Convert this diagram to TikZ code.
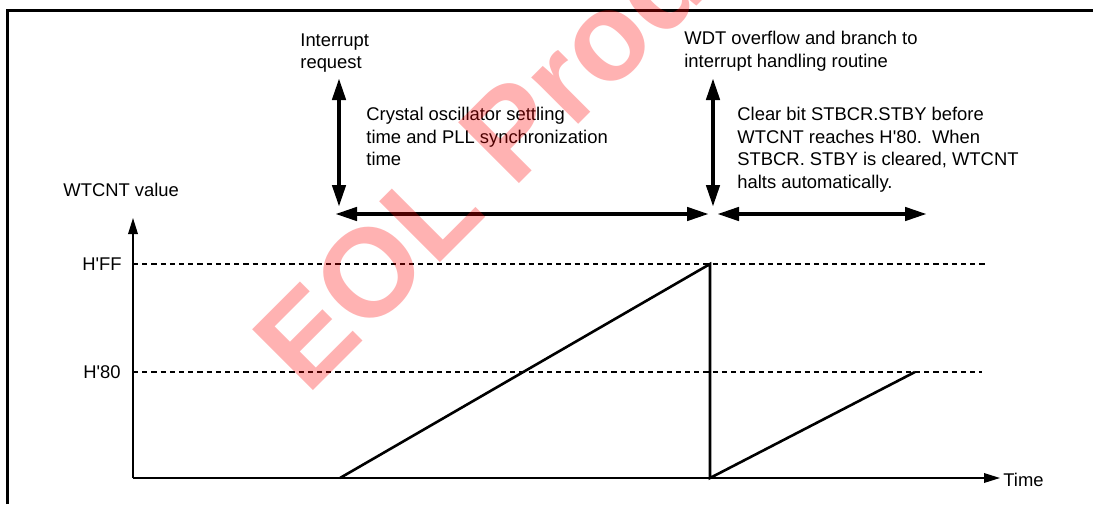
\documentclass[tikz,border=0pt]{standalone}
\usepackage{fontspec}
\setmainfont{Liberation Sans}
\usetikzlibrary{arrows.meta}
\newcommand{\sq}{\textquotesingle}
\begin{document}
\begin{tikzpicture}[x=0.5pt,y=-0.5pt,
  lbl/.style={inner sep=0pt, font=\fontsize{9.2}{11.25}\selectfont, align=left},
  axis/.style={line width=0.75pt, -{Triangle[length=8pt,width=4.8pt]}},
  ramp/.style={line width=1.3pt},
  level/.style={line width=0.55pt, dash pattern=on 2.6pt off 2pt},
  span/.style={line width=2.2pt, {Triangle[length=11pt,width=6.5pt]}-{Triangle[length=11pt,width=6.5pt]}},
  frame/.style={line width=1.5pt},
  wmark/.style={anchor=base west, rotate=45, inner sep=0pt, outer sep=0pt, text=red, text opacity=0.3,
    font=\fontsize{62.5}{70}\selectfont\bfseries}
]
\useasboundingbox (0,0) rectangle (1093,504);
\draw[frame] (7,504) -- (7,10) -- (1093,10);

% axes
\coordinate (O) at (133,478);
\coordinate (ytop) at (133,218);
\coordinate (xend) at (1000,478);
\draw[axis] (O) -- (ytop);
\draw[axis] (O) -- (xend);
\node[lbl, anchor=west] (time) at (1003,480) {Time};
\node[lbl, anchor=north west] (wtcnt) at (63,183) {WTCNT value};

% levels
\node[lbl, anchor=east] (hff) at (122,264) {H\sq FF};
\node[lbl, anchor=east] (h80) at (121,372) {H\sq 80};
\coordinate (ff0) at (133,264);
\coordinate (ff1) at (988,264);
\coordinate (e0) at (133,372);
\coordinate (e1) at (982,372);
\draw[level] (ff0) -- (ff1);
\draw[level] (e0) -- (e1);

% counter ramps
\coordinate (r0) at (340,478);
\coordinate (peak) at (710,264);
\coordinate (drop) at (710,478);
\coordinate (r80) at (915,372);
\draw[ramp] (r0) -- (peak) -- (drop) -- (r80);

% timing arrows
\coordinate (irqT) at (339,78);
\coordinate (irqB) at (339,207);
\coordinate (h1L) at (335,214);
\coordinate (h1R) at (709,214);
\coordinate (wdtT) at (713,78);
\coordinate (wdtB) at (713,207);
\coordinate (h2L) at (717,214);
\coordinate (h2R) at (927,214);
\draw[span] (irqT) -- (irqB);
\draw[span] (h1L) -- (h1R);
\draw[span] (wdtT) -- (wdtB);
\draw[span] (h2L) -- (h2R);

% labels
\node[lbl, anchor=north west] (irq) at (300,33) {Interrupt\\request};
\node[lbl, anchor=north west] (xtal) at (366,107) {Crystal oscillator settling\\time and PLL synchronization\\time};
\node[lbl, anchor=north west] (wdt) at (684,31) {WDT overflow and branch to\\interrupt handling routine};
\node[lbl, anchor=north west] (clr) at (737,107) {Clear bit STBCR.STBY before\\WTCNT reaches H\sq 80.\ \ When\\STBCR. STBY is cleared, WTCNT\\halts automatically.};

% watermark
\begin{scope}
\clip (0,0) rectangle (1093,504);
\node[wmark] (wm) at (307,396) {EOL Products};
\end{scope}
\end{tikzpicture}
\end{document}
